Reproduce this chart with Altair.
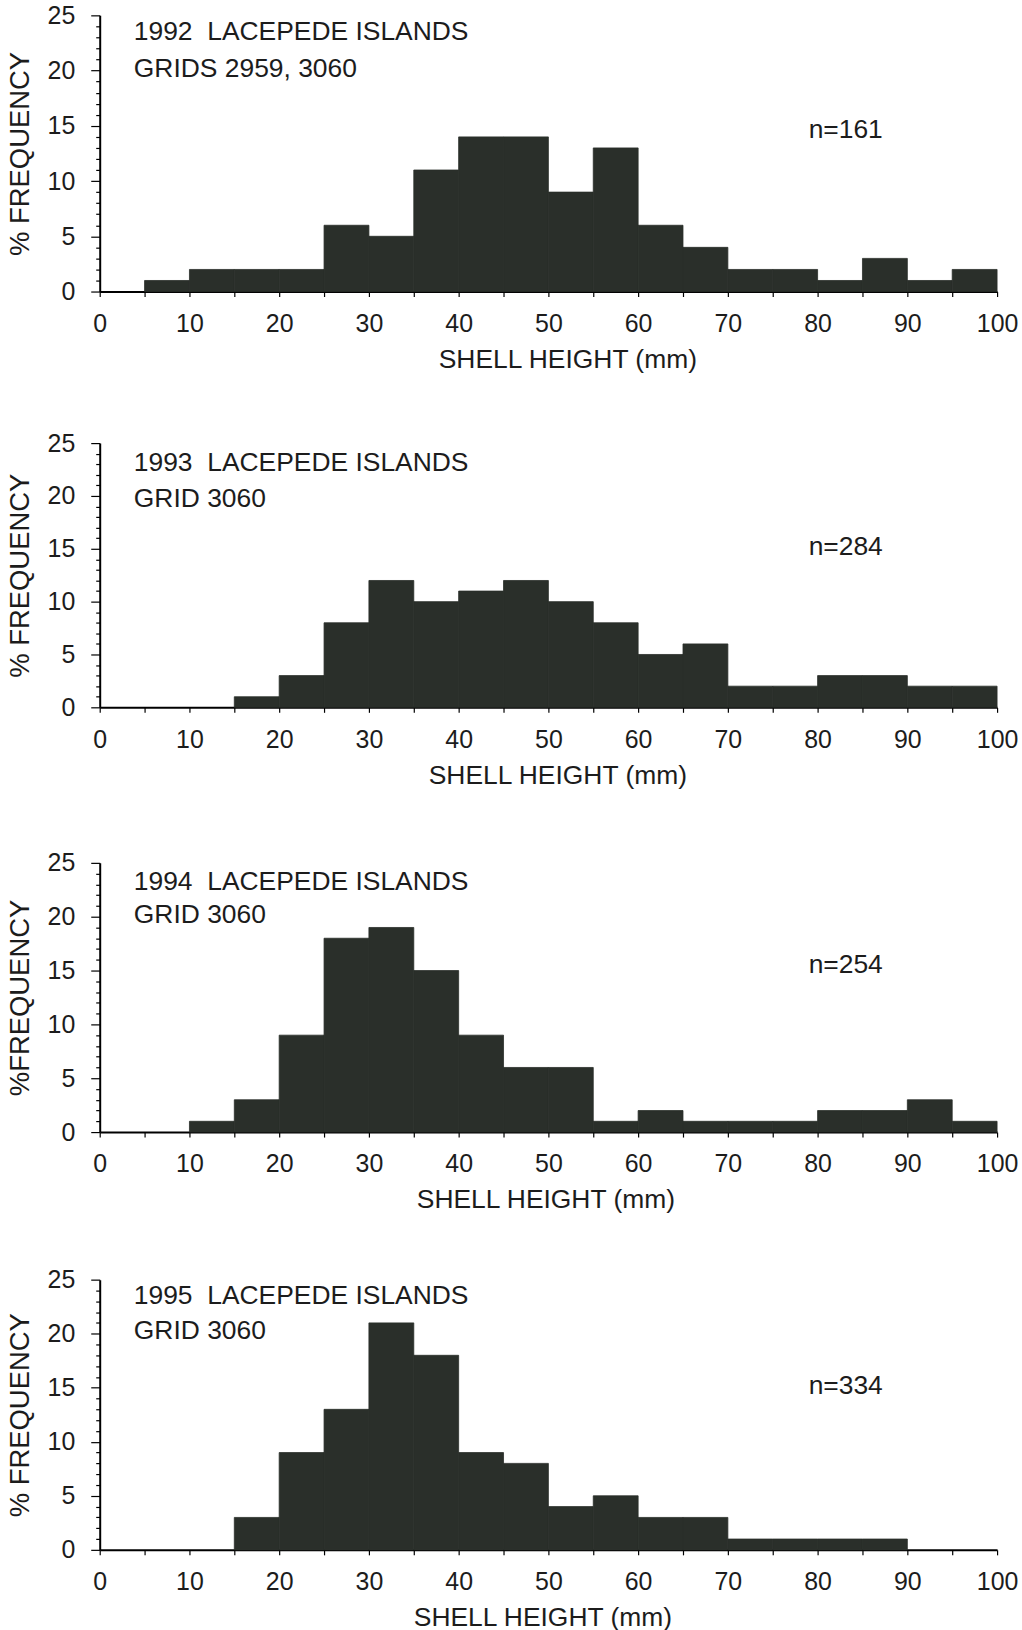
import altair as alt
import pandas as pd

# Shell-height frequency distributions (% per 5 mm class), Lacepede Islands
bin_start = list(range(0, 100, 5))
freq_1992 = [0, 1, 2, 2, 2, 6, 5, 11, 14, 14, 9, 13, 6, 4, 2, 2, 1, 3, 1, 2]
freq_1993 = [0, 0, 0, 1, 3, 8, 12, 10, 11, 12, 10, 8, 5, 6, 2, 2, 3, 3, 2, 2]
freq_1994 = [0, 0, 1, 3, 9, 18, 19, 15, 9, 6, 6, 1, 2, 1, 1, 1, 2, 2, 3, 1]
freq_1995 = [0, 0, 0, 3, 9, 13, 21, 18, 9, 8, 4, 5, 3, 3, 1, 1, 1, 1, 0, 0]

headings = ["1992\u00a0 LACEPEDE ISLANDS", "1993\u00a0 LACEPEDE ISLANDS",
            "1994\u00a0 LACEPEDE ISLANDS", "1995\u00a0 LACEPEDE ISLANDS"]
grids = ["GRIDS 2959, 3060", "GRID 3060", "GRID 3060", "GRID 3060"]
sample_sizes = ["n=161", "n=284", "n=254", "n=334"]
y_titles = ["% FREQUENCY", "% FREQUENCY", "%FREQUENCY", "% FREQUENCY"]

FONT = "Liberation Sans"
BAR = "#2a2f2a"
INK = "#1c1c1c"


def panel(freqs, heading, grid, n_text, y_title, width, height,
          note_y, title_shift):
    df = pd.DataFrame({
        "start": bin_start,
        "end": [b + 5 for b in bin_start],
        "pct": freqs,
    })
    df = df[df["pct"] > 0]

    x_scale = alt.Scale(domain=[0, 100], nice=False)
    y_scale = alt.Scale(domain=[0, 25], nice=False)

    x_axis = alt.Axis(
        values=list(range(0, 101, 5)),
        labelExpr="datum.value % 10 === 0 ? datum.label : ''",
        tickSize=5, tickColor="black", tickWidth=1.2,
        domainColor="black", domainWidth=2,
        labelFont=FONT, labelFontSize=25, labelColor=INK, labelPadding=15,
        labelFlush=False, labelOverlap=False,
        titleFont=FONT, titleFontSize=26.5, titleFontWeight="normal",
        titleColor=INK, titlePadding=10, titleX=width / 2 + title_shift,
        grid=False,
    )
    y_axis = alt.Axis(
        values=list(range(0, 26)),
        labelExpr="datum.value % 5 === 0 ? datum.label : ''",
        tickSize={"condition": {"test": "datum.value % 5 === 0", "value": 9}, "value": 4},
        tickColor="black", tickWidth=1.2,
        domainColor="black", domainWidth=2,
        labelFont=FONT, labelFontSize=25, labelColor=INK, labelPadding=16,
        labelOverlap=False, labelFlush=False,
        titleFont=FONT, titleFontSize=27.5, titleFontWeight="normal",
        titleColor=INK, titlePadding=13, grid=False,
    )
    x_title = "SHELL HEIGHT (mm)"

    bars = alt.Chart(df).mark_rect(color=BAR, stroke=BAR, strokeWidth=0.8).encode(
        x=alt.X("start:Q", scale=x_scale, axis=x_axis, title=x_title),
        x2="end:Q",
        y=alt.Y("pct:Q", scale=y_scale, axis=y_axis, title=y_title),
        y2=alt.datum(0),
    )

    notes = pd.DataFrame({
        "x": [3.8, 3.8, 79.0],
        "y": note_y,
        "label": [heading, grid, n_text],
    })
    text = alt.Chart(notes).mark_text(
        align="left", baseline="middle", font=FONT, fontSize=26.5, color=INK
    ).encode(
        x=alt.X("x:Q", scale=x_scale, axis=x_axis, title=x_title),
        y=alt.Y("y:Q", scale=y_scale, axis=y_axis, title=y_title),
        text="label:N",
    )

    return (bars + text).properties(width=width, height=height)


p1992 = panel(freq_1992, headings[0], grids[0], sample_sizes[0], y_titles[0], 900, 277,
              [23.5, 20.1, 14.6], 19)
p1993 = panel(freq_1993, headings[1], grids[1], sample_sizes[1], y_titles[1], 900, 265,
              [23.1, 19.7, 15.2], 9)
p1994 = panel(freq_1994, headings[2], grids[2], sample_sizes[2], y_titles[2], 900, 270,
              [23.2, 20.2, 15.5], -3)
p1995 = panel(freq_1995, headings[3], grids[3], sample_sizes[3], y_titles[3], 900, 271,
              [23.5, 20.2, 15.2], -6)

upper = alt.vconcat(p1992, p1993, spacing=58)
middle = alt.vconcat(upper, p1994, spacing=62)

chart = alt.vconcat(middle, p1995, spacing=54).properties(
    padding={"left": 6, "top": 1, "right": 4, "bottom": 0},
    background="white",
).configure_view(strokeWidth=0)

chart.save("out.html", embed_options={"renderer": "svg", "actions": False})
